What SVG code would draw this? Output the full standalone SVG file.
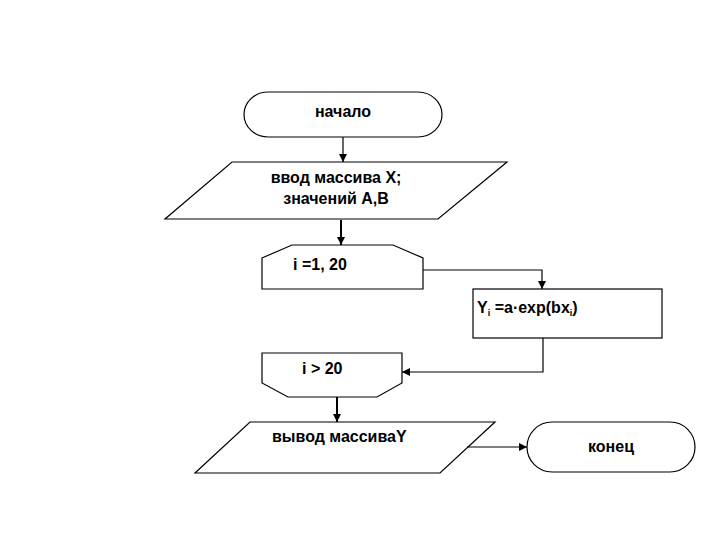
<svg xmlns="http://www.w3.org/2000/svg" width="720" height="540" viewBox="0 0 720 540">
<style>
.s{fill:#fff;stroke:#000;stroke-width:1.2}
.t{font-family:"Liberation Sans",Arial,sans-serif;font-size:16px;font-weight:bold;fill:#000}
.c{fill:none;stroke:#000;stroke-width:1.2}
.k{fill:none;stroke:#000;stroke-width:2}
</style>
<defs>
<marker id="a" viewBox="0 0 10 10" refX="10" refY="5" markerWidth="8" markerHeight="8" markerUnits="userSpaceOnUse" orient="auto">
<path d="M0,0 L10,5 L0,10 z" fill="#000"/>
</marker>
</defs>
<rect width="720" height="540" fill="#fff"/>
<g id="start">
<rect class="s" x="244" y="92" width="198" height="45" rx="24" ry="22.5"/>
<text class="t" x="343" y="117" text-anchor="middle">начало</text>
</g>
<g id="input">
<polygon class="s" points="232,162 507,162 438,219 165,219"/>
<text class="t" x="336" y="183" text-anchor="middle">ввод массива X;</text>
<text class="t" x="336" y="204" text-anchor="middle">значений A,B</text>
</g>
<g id="loopstart">
<polygon class="s" points="262,258 292,245 393,245 423,258 423,289 262,289"/>
<text class="t" x="293" y="270">i =1, 20</text>
</g>
<g id="calc">
<rect class="s" x="473" y="289" width="189" height="49"/>
<text class="t" x="477" y="313">Y<tspan font-size="9" dy="3">i</tspan><tspan dy="-3"> =a·exp(bx</tspan><tspan font-size="9" dy="3">i</tspan><tspan dy="-3">)</tspan></text>
</g>
<g id="loopend">
<polygon class="s" points="262,353 402,353 402,383 377,397 288,397 262,383"/>
<text class="t" x="302" y="374">i &gt; 20</text>
</g>
<g id="output">
<polygon class="s" points="250,422 495,422 440,473 195,473"/>
<text class="t" x="272" y="442">вывод массиваY</text>
</g>
<g id="end">
<rect class="s" x="527" y="422" width="168" height="50" rx="25" ry="25"/>
<text class="t" x="611" y="452" text-anchor="middle">конец</text>
</g>
<g id="connectors">
<path class="c" d="M343,137 V162" marker-end="url(#a)"/>
<path class="k" d="M341,220 V245" marker-end="url(#a)"/>
<path class="c" d="M423,270 H542 V289" marker-end="url(#a)"/>
<path class="c" d="M543,338 V372 H402" marker-end="url(#a)"/>
<path class="k" d="M337,397 V422" marker-end="url(#a)"/>
<path class="c" d="M467,447 H527" marker-end="url(#a)"/>
</g>
</svg>
